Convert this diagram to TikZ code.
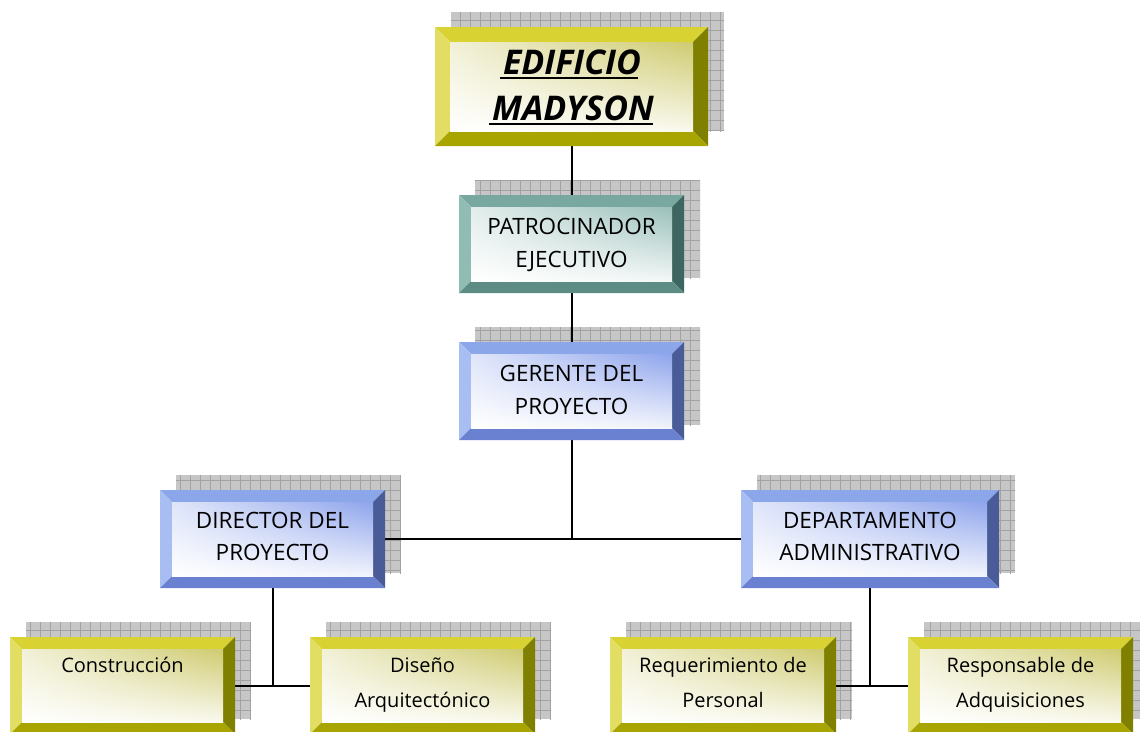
\documentclass[tikz,border=0pt]{standalone}
\usepackage{fontspec}
\setmainfont{Open Sans}
\usetikzlibrary{calc,shadings}
\pgfdeclarelayer{shadow}
\pgfdeclarelayer{lines}
\pgfsetlayers{shadow,lines,main}

\definecolor{ytop}{HTML}{D8D232}
\definecolor{yleft}{HTML}{E2DE64}
\definecolor{yright}{HTML}{808000}
\definecolor{ybot}{HTML}{A8A400}
\definecolor{yin}{HTML}{CFCB70}
\definecolor{ttop}{HTML}{78A8A0}
\definecolor{tleft}{HTML}{90BCB4}
\definecolor{tright}{HTML}{3E6660}
\definecolor{tbot}{HTML}{5C8C84}
\definecolor{tin}{HTML}{9AC0BA}
\definecolor{btop}{HTML}{8CA6EA}
\definecolor{bleft}{HTML}{A8BEF2}
\definecolor{bright}{HTML}{4A5C98}
\definecolor{bbot}{HTML}{6A80D0}
\definecolor{bin}{HTML}{8EA4EC}
\definecolor{shfill}{HTML}{C6C6C6}
\definecolor{shgrid}{HTML}{A2A2A2}

\tikzset{
  boxnode/.style={rectangle, inner sep=0pt, outer sep=0pt},
  conn/.style={draw=black, line width=2pt},
  uline/.style={draw=black, line width=2.8pt},
  lbl/.style={inner sep=0pt, anchor=base, font=\fontsize{22.5}{27}\selectfont},
  sml/.style={inner sep=0pt, anchor=base, font=\fontsize{20}{24}\selectfont},
  ttl/.style={inner sep=0pt, anchor=base, font=\fontsize{34}{40}\selectfont\bfseries\itshape},
}

% name, x1, y1, x2, y2, scheme, bevel
\newcommand\bevbox[7]{%
  \node[boxnode, minimum width={(#4-#2)*1pt}, minimum height={(#5-#3)*1pt}] (#1) at ({(#2+#4)/2},{(#3+#5)/2}) {};
  \begin{pgfonlayer}{shadow}
    \begin{scope}
      \clip ($(#1.south west)+(16pt,15pt)$) rectangle ($(#1.north east)+(16pt,15pt)$);
      \fill[shfill] ($(#1.south west)+(16pt,15pt)$) rectangle ($(#1.north east)+(16pt,15pt)$);
      \draw[shgrid, line width=0.7pt, step=10pt] ($(#1.south west)+(6pt,5pt)$) grid ($(#1.north east)+(26pt,25pt)$);
    \end{scope}
  \end{pgfonlayer}
  \fill[#6top] (#1.north west) -- (#1.north east) -- ($(#1.north east)+(-#7pt,-#7pt)$) -- ($(#1.north west)+(#7pt,-#7pt)$) -- cycle;
  \fill[#6left] (#1.north west) -- ($(#1.north west)+(#7pt,-#7pt)$) -- ($(#1.south west)+(#7pt,#7pt)$) -- (#1.south west) -- cycle;
  \fill[#6right] (#1.north east) -- (#1.south east) -- ($(#1.south east)+(-#7pt,#7pt)$) -- ($(#1.north east)+(-#7pt,-#7pt)$) -- cycle;
  \fill[#6bot] (#1.south west) -- (#1.south east) -- ($(#1.south east)+(-#7pt,#7pt)$) -- ($(#1.south west)+(#7pt,#7pt)$) -- cycle;
  \shade[lower left=white, upper right=#6in, upper left=#6in!28!white, lower right=#6in!12!white]
    ($(#1.south west)+(#7pt,#7pt)$) rectangle ($(#1.north east)+(-#7pt,-#7pt)$);
}

\begin{document}
\begin{tikzpicture}[x=1pt, y=-1pt]
\useasboundingbox (0,0) rectangle (1140,731);

\bevbox{edif}{435}{27}{708}{146}{y}{15}
\bevbox{patro}{459}{195}{684}{293}{t}{12}
\bevbox{ger}{459}{342}{684}{440}{b}{12}
\bevbox{dir}{160}{490}{385}{588}{b}{12}
\bevbox{dep}{741}{490}{999}{588}{b}{12}
\bevbox{cons}{10}{637}{235}{734}{y}{12}
\bevbox{dis}{310}{637}{535}{734}{y}{12}
\bevbox{req}{610}{637}{836}{734}{y}{12}
\bevbox{resp}{908}{637}{1133}{734}{y}{12}

\begin{pgfonlayer}{lines}
  \draw[conn] (edif.south) -- (patro.north);
  \draw[conn] (patro.south) -- (ger.north);
  \draw[conn] (ger.south) -- (ger.south |- dir.east);
  \draw[conn] (dir.east) -- (dep.west);
  \draw[conn] (dir.south) -- (dir.south |- cons.east);
  \draw[conn] (cons.east) -- (dis.west);
  \draw[conn] (dep.south) -- (dep.south |- req.east);
  \draw[conn] (req.east) -- (resp.west);
\end{pgfonlayer}

\node[ttl] (t1a) at (572,74) {EDIFICIO};
\node[ttl] (t1b) at (573,120) {MADYSON};
\draw[uline] ($(t1a.base west)+(-3pt,-4pt)$) -- ($(t1a.base east)+(-3pt,-4pt)$);
\draw[uline] ($(t1b.base west)+(-3pt,-4pt)$) -- ($(t1b.base east)+(-1pt,-4pt)$);
\node[lbl] (t2a) at (571.5,234) {PATROCINADOR};
\node[lbl] (t2b) at (571.5,267) {EJECUTIVO};
\node[lbl] (t3a) at (571.5,381) {GERENTE DEL};
\node[lbl] (t3b) at (571.5,414) {PROYECTO};
\node[lbl] (t4a) at (272.5,528) {DIRECTOR DEL};
\node[lbl] (t4b) at (272.5,560) {PROYECTO};
\node[lbl] (t5a) at (870,528) {DEPARTAMENTO};
\node[lbl] (t5b) at (870,560) {ADMINISTRATIVO};
\node[sml] (t6a) at (122.5,672) {Construcción};
\node[sml] (t7a) at (422.5,672) {Diseño};
\node[sml] (t7b) at (422.5,707) {Arquitectónico};
\node[sml] (t8a) at (723,672) {Requerimiento de};
\node[sml] (t8b) at (723,707) {Personal};
\node[sml] (t9a) at (1020.5,672) {Responsable de};
\node[sml] (t9b) at (1020.5,707) {Adquisiciones};
\end{tikzpicture}
\end{document}
